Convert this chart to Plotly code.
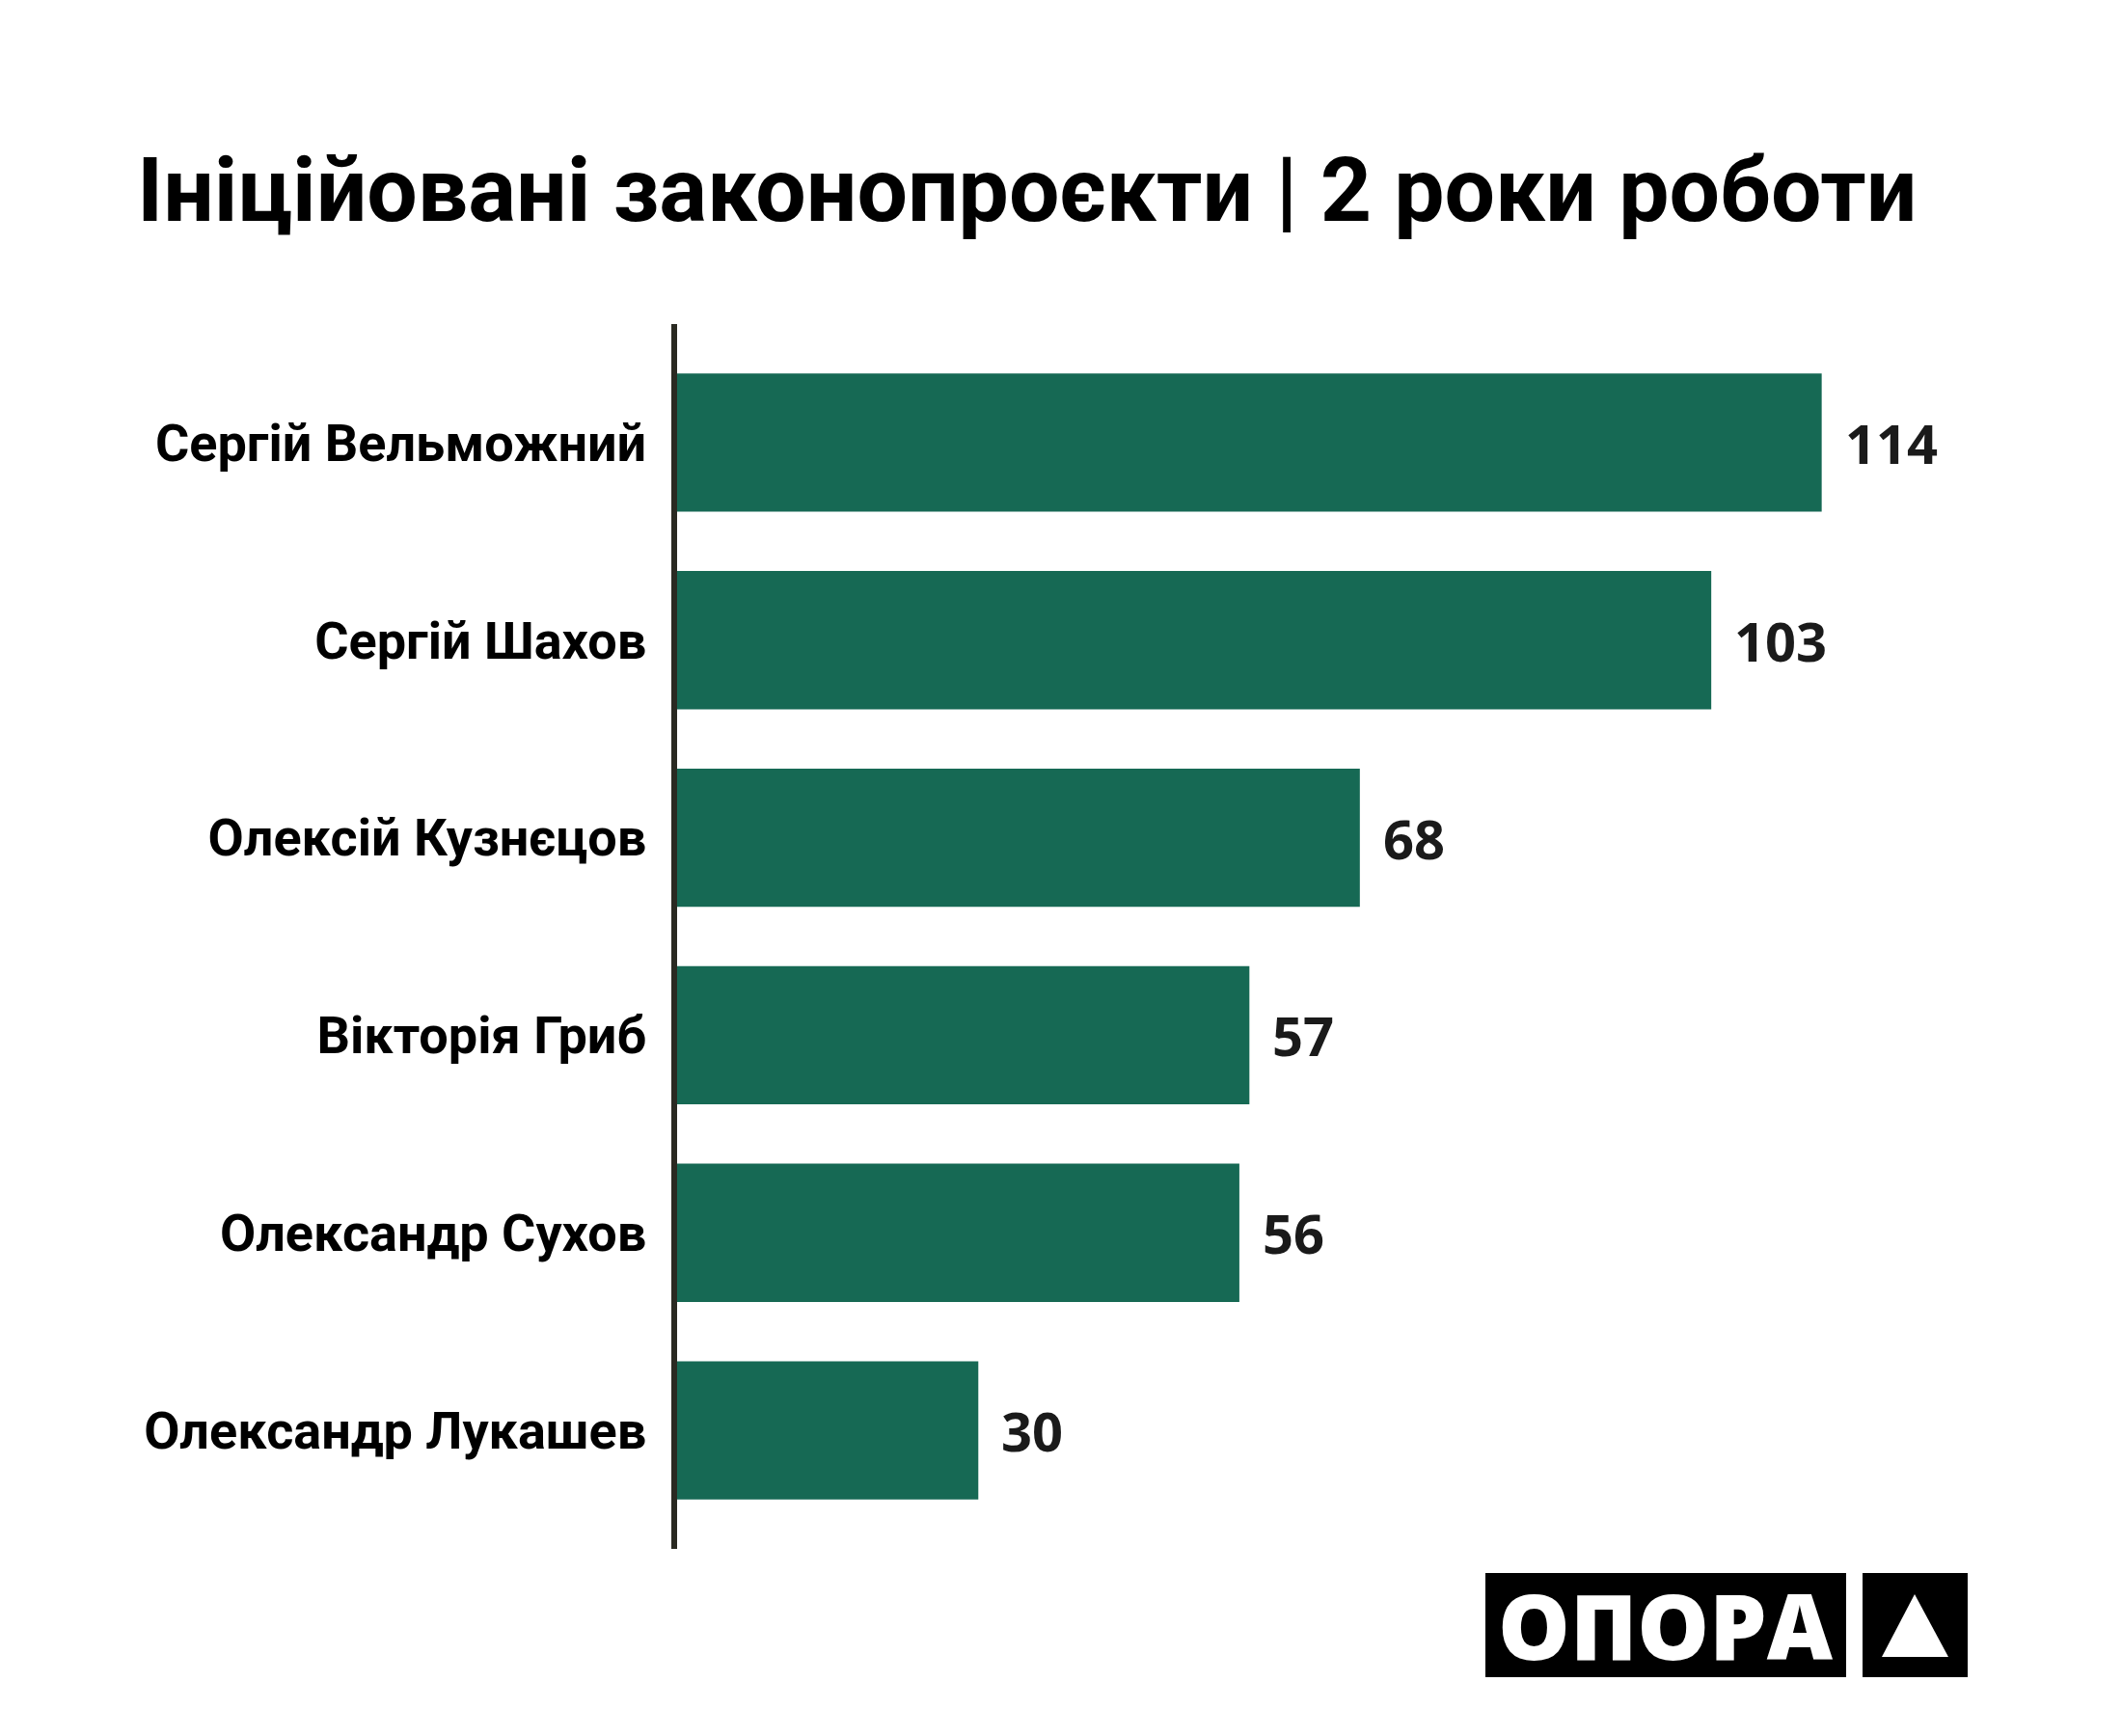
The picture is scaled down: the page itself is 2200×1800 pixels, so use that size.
import plotly.graph_objects as go

# Data
names = [
    "Сергій Вельможний",
    "Сергій Шахов",
    "Олексій Кузнєцов",
    "Вікторія Гриб",
    "Олександр Сухов",
    "Олександр Лукашев",
]
bills = [114, 103, 68, 57, 56, 30]

title_text = "Ініційовані законопроєкти | 2 роки роботи"
logo_text = "ОПОРА"

W, H = 2200, 1800
ML, MR, MT, MB = 694, 31, 328, 202
BAR_COLOR = "#166954"


def px_to_paper(x, y):
    """Convert page pixels to paper coordinates."""
    pw = W - ML - MR
    ph = H - MT - MB
    return (x - ML) / pw, (H - MB - y) / ph


fig = go.Figure(go.Bar(
    x=bills, y=names, orientation="h",
    marker=dict(color=BAR_COLOR, line=dict(width=0)),
    width=0.7,
    hoverinfo="x+y",
))

# value labels next to the bars
for n, v in zip(names, bills):
    fig.add_annotation(x=v, y=n, text=str(v), showarrow=False,
                       xanchor="left", yanchor="middle", xshift=22,
                       font=dict(family="Open Sans", size=56, color="#1a1a1a",
                                 weight=700))

# title
tx, ty = px_to_paper(132, 246)
fig.add_annotation(x=tx, y=ty, xref="paper", yref="paper", text=title_text,
                   showarrow=False, xanchor="left", yanchor="bottom",
                   font=dict(family="Roboto", size=93, color="#000000",
                             weight=700))

# logo boxes
x0, y0 = px_to_paper(1532, 1623)
x1, y1 = px_to_paper(1906, 1731)
fig.add_shape(type="rect", xref="paper", yref="paper", x0=x0, y0=y0, x1=x1,
              y1=y1, fillcolor="#000000", line=dict(width=0))
x0, y0 = px_to_paper(1923, 1623)
x1, y1 = px_to_paper(2032, 1731)
fig.add_shape(type="rect", xref="paper", yref="paper", x0=x0, y0=y0, x1=x1,
              y1=y1, fillcolor="#000000", line=dict(width=0))
# triangle
ax_, ay_ = px_to_paper(1977, 1645)
bx_, by_ = px_to_paper(1943, 1710)
cx_, cy_ = px_to_paper(2012, 1710)
fig.add_shape(type="path", xref="paper", yref="paper",
              path=f"M {ax_} {ay_} L {bx_} {by_} L {cx_} {cy_} Z",
              fillcolor="#ffffff", line=dict(width=0))
lx, ly = px_to_paper(1719, 1677)
fig.add_annotation(x=lx, y=ly, xref="paper", yref="paper", text=logo_text,
                   showarrow=False, xanchor="center", yanchor="middle",
                   font=dict(family="Open Sans", size=94, color="#ffffff",
                             weight=800))

fig.update_layout(
    width=W, height=H,
    margin=dict(l=ML, r=MR, t=MT, b=MB),
    plot_bgcolor="#ffffff", paper_bgcolor="#ffffff",
    showlegend=False,
    bargap=0.3,
)
fig.update_xaxes(range=[0, 141.7], visible=False, fixedrange=True)
fig.update_yaxes(
    autorange=False, range=[5.6, -0.6],
    showline=True, linecolor="#2a2a22", linewidth=6,
    showgrid=False, zeroline=False, ticks="",
    ticklabelstandoff=15,
    tickfont=dict(family="Roboto", size=54, color="#000000", weight=700),
)

fig.write_html("out.html")
